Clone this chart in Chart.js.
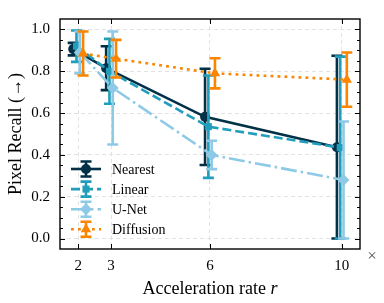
<!DOCTYPE html>
<html>
<head>
<meta charset="utf-8">
<script src="https://cdn.jsdelivr.net/npm/chart.js@4.4.0/dist/chart.umd.min.js"></script>
<style>
  html, body { margin: 0; padding: 0; background: #fff; }
</style>
</head>
<body>
<canvas id="recallChart" width="384" height="303"></canvas>
<script>
// acceleration rates and tick labels
const rates = [2, 3, 6, 10];
const xTicks = [2, 3, 6, 10];
const yTicks = [0, 0.2, 0.4, 0.6, 0.8, 1.0];

// pixel recall per method (mean and error)
const nearest = [0.906, 0.815, 0.582, 0.437];
const nearestErr = [0.03, 0.105, 0.23, 0.437];
const linear = [0.92, 0.80, 0.535, 0.435];
const linearErr = [0.075, 0.155, 0.245, 0.435];
const unet = [0.89, 0.72, 0.40, 0.28];
const unetErr = [0.10, 0.27, 0.068, 0.28];
const diffusion = [0.885, 0.86, 0.79, 0.76];
const diffusionErr = [0.105, 0.09, 0.072, 0.13];

const methods = ["Nearest", "Linear", "U-Net", "Diffusion"];
const colors = ["#023047", "#219ebc", "#8ecae6", "#fb8500"];
const dashes = [[], [9, 4], [16, 4, 2.5, 4], [2.8, 4.2]];
const markers = ["circle", "rect", "rectRot", "triangle"];
const markerSize = [5, 5, 6, 6];
const shifts = [-0.15, -0.05, 0.05, 0.15];

const serif = '"Liberation Serif", "DejaVu Serif", serif';

function toPoints(vals, shift) {
  return rates.map((r, i) => ({ x: r + shift, y: vals[i] }));
}

const values = [nearest, linear, unet, diffusion];
const errors = [nearestErr, linearErr, unetErr, diffusionErr];

const datasets = methods.map((name, k) => ({
  label: name,
  data: toPoints(values[k], shifts[k]),
  errors: errors[k],
  borderColor: colors[k],
  backgroundColor: colors[k],
  borderWidth: 2.6,
  borderDash: dashes[k],
  pointStyle: markers[k],
  pointRadius: markerSize[k],
  pointBorderWidth: 0,
  pointBackgroundColor: colors[k],
  tension: 0,
  order: 4 - k,
}));

function drawErrorBar(ctx, x, yTop, yBot, color, cap) {
  ctx.save();
  ctx.strokeStyle = color;
  ctx.lineWidth = 2.6;
  ctx.setLineDash([]);
  ctx.beginPath();
  ctx.moveTo(x, yTop); ctx.lineTo(x, yBot);
  ctx.moveTo(x - cap, yTop); ctx.lineTo(x + cap, yTop);
  ctx.moveTo(x - cap, yBot); ctx.lineTo(x + cap, yBot);
  ctx.stroke();
  ctx.restore();
}

// error bars drawn just under each dataset's line and markers
const errorBars = {
  id: "errorBars",
  beforeDatasetDraw(chart, args) {
    const ds = chart.data.datasets[args.index];
    const xs = chart.scales.x, ys = chart.scales.y;
    const ctx = chart.ctx;
    ds.data.forEach((p, i) => {
      const e = ds.errors[i];
      drawErrorBar(ctx, xs.getPixelForValue(p.x), ys.getPixelForValue(p.y + e),
        ys.getPixelForValue(p.y - e), ds.borderColor, 5.5);
    });
  }
};

// frame, inward ticks, titles and legend
const decorations = {
  id: "decorations",
  afterDraw(chart) {
    const ctx = chart.ctx;
    const a = chart.chartArea;
    const xs = chart.scales.x, ys = chart.scales.y;
    ctx.save();
    ctx.strokeStyle = "#000";
    ctx.lineWidth = 1.4;
    ctx.setLineDash([]);
    ctx.strokeRect(a.left, a.top, a.right - a.left, a.bottom - a.top);

    ctx.lineWidth = 1;
    ctx.beginPath();
    for (let v = 0; v <= 1.0001; v += 0.05) {
      const y = Math.round(ys.getPixelForValue(v)) + 0.5;
      const major = Math.abs(v * 5 - Math.round(v * 5)) < 1e-6;
      const len = major ? 5 : 3;
      ctx.moveTo(a.left, y); ctx.lineTo(a.left + len, y);
      ctx.moveTo(a.right, y); ctx.lineTo(a.right - len, y);
    }
    xTicks.forEach(v => {
      const x = Math.round(xs.getPixelForValue(v)) + 0.5;
      ctx.moveTo(x, a.bottom); ctx.lineTo(x, a.bottom - 5);
      ctx.moveTo(x, a.top); ctx.lineTo(x, a.top + 5);
    });
    ctx.stroke();

    // axis titles
    ctx.fillStyle = "#000";
    ctx.textBaseline = "alphabetic";
    const t1 = "Acceleration rate ";
    ctx.font = "18px " + serif;
    const w1 = ctx.measureText(t1).width;
    ctx.font = "italic 18px " + serif;
    const w2 = ctx.measureText("r").width;
    const cx = (a.left + a.right) / 2;
    const x0 = cx - (w1 + w2) / 2;
    ctx.font = "18px " + serif;
    ctx.textAlign = "left";
    ctx.fillText(t1, x0, 294);
    ctx.font = "italic 18px " + serif;
    ctx.fillText("r", x0 + w1, 294);

    ctx.save();
    ctx.translate(21, (a.top + a.bottom) / 2);
    ctx.rotate(-Math.PI / 2);
    ctx.textAlign = "center";
    ctx.font = "18px " + serif;
    ctx.fillText("Pixel Recall (\u2192)", 0, 0);
    ctx.restore();

    ctx.font = "17px " + serif;
    ctx.textAlign = "center";
    ctx.textBaseline = "middle";
    ctx.fillStyle = "#555";
    ctx.fillText("\u00d7", 372, 257);

    // legend
    methods.forEach((name, k) => {
      const y = 169 + k * 20.1;
      const x = 86;
      ctx.strokeStyle = colors[k];
      ctx.lineWidth = 2.6;
      ctx.setLineDash(dashes[k]);
      ctx.beginPath();
      ctx.moveTo(71, y); ctx.lineTo(101, y);
      ctx.stroke();
      ctx.setLineDash([]);
      drawErrorBar(ctx, x, y - 7.5, y + 7.5, colors[k], 5.5);
      ctx.fillStyle = colors[k];
      Chart.helpers.drawPoint(ctx, {
        pointStyle: markers[k], radius: markerSize[k], rotation: 0, borderWidth: 0
      }, x, y);
      ctx.fillStyle = "#000";
      ctx.font = "14px " + serif;
      ctx.textAlign = "left";
      ctx.textBaseline = "middle";
      ctx.fillText(name, 112, y + 1);
    });
    ctx.restore();
  }
};

const gridColor = "#e2e2e2";

new Chart(document.getElementById("recallChart").getContext("2d"), {
  type: "line",
  data: { datasets },
  plugins: [errorBars, decorations],
  options: {
    responsive: false,
    animation: false,
    layout: { padding: { top: 7, right: 24, left: 0, bottom: 0 } },
    plugins: { legend: { display: false }, tooltip: { enabled: false } },
    scales: {
      x: {
        type: "linear",
        min: 1.45,
        max: 10.55,
        afterBuildTicks: axis => { axis.ticks = xTicks.map(v => ({ value: v })); },
        afterFit: axis => { axis.height = 54; },
        ticks: {
          color: "#000",
          font: { family: serif, size: 15 },
          padding: 8,
          maxRotation: 0,
          callback: v => String(v),
        },
        grid: { color: gridColor, drawTicks: false, lineWidth: 1 },
        border: { display: false, dash: [4, 3] },
      },
      y: {
        min: -0.05,
        max: 1.05,
        afterBuildTicks: axis => { axis.ticks = yTicks.map(v => ({ value: v })); },
        afterFit: axis => { axis.width = 60; },
        ticks: {
          color: "#000",
          font: { family: serif, size: 15 },
          padding: 10,
          callback: v => Number(v).toFixed(1),
        },
        grid: { color: gridColor, drawTicks: false, lineWidth: 1 },
        border: { display: false, dash: [4, 3] },
      },
    },
  },
});
</script>
</body>
</html>
